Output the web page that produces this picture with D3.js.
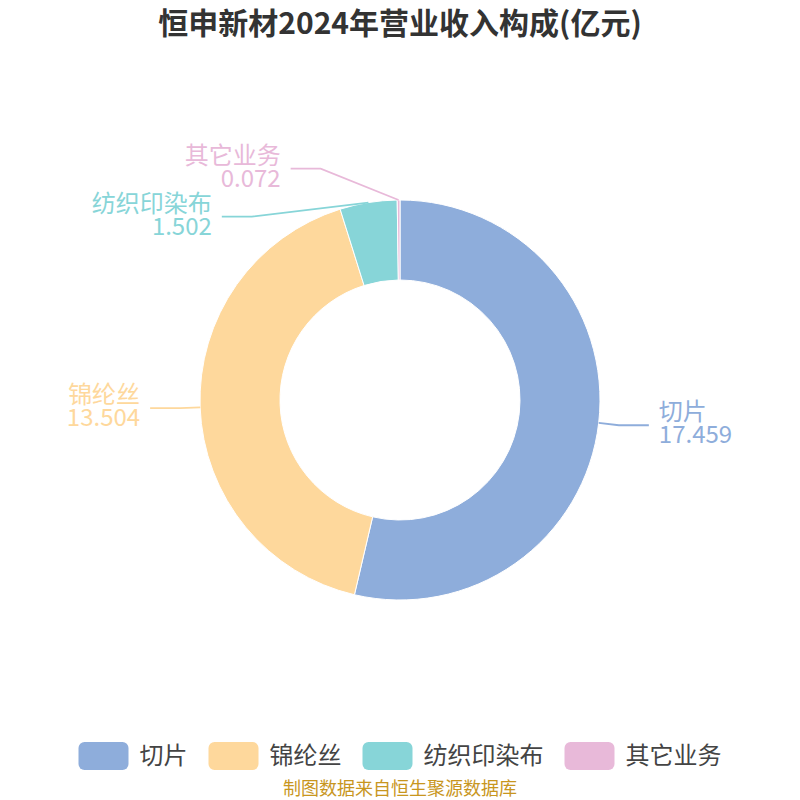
<!DOCTYPE html>
<html>
<head>
<meta charset="utf-8">
<script src="https://cdn.jsdelivr.net/npm/d3@7"></script>
<style>
  body { margin: 0; background: #fff; }
  svg { font-family: "Noto Sans CJK SC", "Noto Sans", sans-serif; }
</style>
</head>
<body>
<svg width="800" height="800"></svg>
<script>
// 恒申新材2024年营业收入构成
const categories = ['切片', '锦纶丝', '纺织印染布', '其它业务'];
const values = [17.459, 13.504, 1.502, 0.072];
const colors = ['#8eaddb', '#fed89c', '#87d5d8', '#e8b9d9'];

const svg = d3.select('svg');
const cx = 400, cy = 400;
const outerR = 200, innerR = 120;
const len1 = 20, len2 = 30;   // label line pieces
const labelH = 48;            // two text lines
const ellB = outerR + 48;     // labels sit on a slightly taller ellipse

svg.append('text')
  .attr('x', 400)
  .attr('y', 34)
  .attr('text-anchor', 'middle')
  .attr('font-size', 30)
  .attr('font-weight', 'bold')
  .attr('fill', '#333')
  .text('恒申新材2024年营业收入构成(亿元)');

const pie = d3.pie().sort(null).value((d) => d);
const arcs = pie(values);
const arc = d3.arc().innerRadius(innerR).outerRadius(outerR);

const g = svg.append('g').attr('transform', `translate(${cx}, ${cy})`);

g.selectAll('path.slice')
  .data(arcs)
  .enter()
  .append('path')
  .attr('class', 'slice')
  .attr('d', arc)
  .attr('fill', (d, i) => colors[i])
  .attr('stroke', '#fff')
  .attr('stroke-width', 1);

// label positions
const labels = arcs.map((d, i) => {
  const mid = (d.startAngle + d.endAngle) / 2;
  const s = Math.sin(mid), c = Math.cos(mid);
  return {
    i: i,
    dir: s >= 0 ? 1 : -1,
    x0: outerR * s,
    y0: -outerR * c,
    y: -(outerR + len1) * c
  };
});

// avoid overlap on each side: push down, then shift cluster back
[1, -1].forEach((dir) => {
  const side = labels.filter((l) => l.dir === dir).sort((a, b) => a.y - b.y);
  let total = 0;
  const moved = [];
  for (let k = 1; k < side.length; k++) {
    const gap = side[k].y - side[k - 1].y;
    if (gap < labelH) {
      const sh = labelH - gap;
      side[k].y += sh;
      total += sh;
      if (!moved.includes(side[k - 1])) moved.push(side[k - 1]);
      moved.push(side[k]);
    }
  }
  moved.forEach((l) => { l.y -= total / labels.length; });
});

labels.forEach((l) => {
  const a = outerR + len1;
  const t = Math.min(1, Math.abs(l.y) / ellB);
  l.x1 = l.dir * a * Math.sqrt(1 - t * t);
  l.x2 = l.x1 + l.dir * len2;
});

const lab = g.selectAll('g.label')
  .data(labels)
  .enter()
  .append('g')
  .attr('class', 'label');

lab.append('polyline')
  .attr('points', (l) => [[l.x0, l.y0], [l.x1, l.y], [l.x2, l.y]].map((p) => p.join(',')).join(' '))
  .attr('fill', 'none')
  .attr('stroke', (l) => colors[l.i])
  .attr('stroke-width', 1.8);

lab.append('text')
  .attr('x', (l) => l.x2 + l.dir * 10)
  .attr('y', (l) => l.y - 5)
  .attr('text-anchor', (l) => l.dir > 0 ? 'start' : 'end')
  .attr('font-size', 24)
  .attr('fill', (l) => colors[l.i])
  .text((l) => categories[l.i]);

lab.append('text')
  .attr('x', (l) => l.x2 + l.dir * 10)
  .attr('y', (l) => l.y + 18)
  .attr('text-anchor', (l) => l.dir > 0 ? 'start' : 'end')
  .attr('font-size', 24)
  .attr('fill', (l) => colors[l.i])
  .text((l) => values[l.i].toFixed(3));

// legend
const legend = svg.append('g');
let lx = 0;
categories.forEach((name, i) => {
  const item = legend.append('g').attr('transform', `translate(${lx}, 0)`);
  item.append('rect')
    .attr('x', 0)
    .attr('y', 742)
    .attr('width', 50)
    .attr('height', 28)
    .attr('rx', 6)
    .attr('fill', colors[i]);
  const t = item.append('text')
    .attr('x', 61)
    .attr('y', 764)
    .attr('font-size', 24)
    .attr('fill', '#444')
    .text(name);
  lx += 61 + t.node().getComputedTextLength() + 21;
});
legend.attr('transform', `translate(${(800 - (lx - 21)) / 2}, 0)`);

svg.append('text')
  .attr('x', 400)
  .attr('y', 795)
  .attr('text-anchor', 'middle')
  .attr('font-size', 18)
  .attr('fill', '#c8961e')
  .text('制图数据来自恒生聚源数据库');
</script>
</body>
</html>
